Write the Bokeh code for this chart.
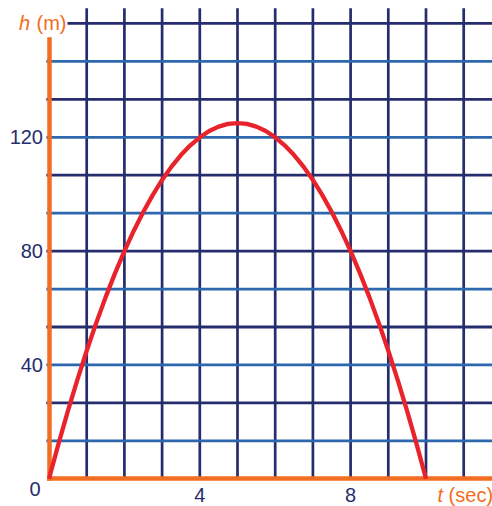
from bokeh.plotting import figure
from bokeh.models import LinearAxis, FixedTicker, Label, Range1d
from bokeh.embed import file_html
from bokeh.resources import INLINE

# ---- data ----
t_sec = [0, 0.25, 0.5, 0.75, 1, 1.25, 1.5, 1.75, 2, 2.25, 2.5, 2.75, 3, 3.25, 3.5, 3.75,
         4, 4.25, 4.5, 4.75, 5, 5.25, 5.5, 5.75, 6, 6.25, 6.5, 6.75, 7, 7.25, 7.5, 7.75,
         8, 8.25, 8.5, 8.75, 9, 9.25, 9.5, 9.75, 10]
h_m = [0, 12.19, 23.75, 34.69, 45, 54.69, 63.75, 72.19, 80, 87.19, 93.75, 99.69, 105,
       109.69, 113.75, 117.19, 120, 122.19, 123.75, 124.69, 125, 124.69, 123.75, 122.19,
       120, 117.19, 113.75, 109.69, 105, 99.69, 93.75, 87.19, 80, 72.19, 63.75, 54.69,
       45, 34.69, 23.75, 12.19, 0]
v_grid = [1, 2, 3, 4, 5, 6, 7, 8, 9, 10, 11]
h_grid = [13.33, 26.67, 40, 53.33, 66.67, 80, 93.33, 106.67, 120, 133.33, 146.67, 160]
x_ticks = [4, 8]
y_ticks = [40, 80, 120]

# ---- styles ----
ORANGE = "#f26d21"
RED = "#e8232b"
NAVY = "#262d6e"
BLUE = "#2d67ad"
FONT = "Liberation Sans"
FS = "20px"

W, H = 492, 506
PX_X, PX_Y = 37.7, 2.846
x0 = -48.5 / PX_X
x1 = x0 + W / PX_X
y0 = -(H - 478.3) / PX_Y
y1 = y0 + H / PX_Y

p = figure(width=W, height=H, x_range=Range1d(x0, x1), y_range=Range1d(y0, y1),
           output_backend="svg", toolbar_location=None, min_border=0,
           x_axis_type=None, y_axis_type=None)
p.outline_line_color = None
p.background_fill_color = "white"
p.border_fill_color = "white"

# vertical grid lines
r = p.segment(x0=v_grid, y0=[0] * len(v_grid), x1=v_grid, y1=[165.3] * len(v_grid),
              line_color=NAVY, line_width=2.7)
r.level = "underlay"

# horizontal grid lines (alternating colours)
h_cols = [BLUE if i % 2 == 0 else NAVY for i in range(len(h_grid))]
h_start = [-0.07] * (len(h_grid) - 1) + [0.49]
r = p.segment(x0=h_start, y0=h_grid, x1=[13] * len(h_grid), y1=h_grid,
              line_color=h_cols, line_width=2.8)
r.level = "underlay"

# axes through the origin
xaxis = LinearAxis(fixed_location=0, ticker=FixedTicker(ticks=x_ticks), bounds=(0, 13))
yaxis = LinearAxis(fixed_location=0, ticker=FixedTicker(ticks=y_ticks), bounds=(0, 154.4))
for ax in (xaxis, yaxis):
    ax.axis_line_color = ORANGE
    ax.axis_line_width = 4.5
    ax.axis_line_cap = "square"
    ax.major_tick_line_color = None
    ax.minor_tick_line_color = None
    ax.major_label_text_color = NAVY
    ax.major_label_text_font = FONT
    ax.major_label_text_font_size = FS
xaxis.major_label_standoff = 3
yaxis.major_label_standoff = 0
p.add_layout(xaxis, "below")
p.add_layout(yaxis, "left")

# curve
c = p.line(t_sec, h_m, line_color=RED, line_width=4.3)
c.level = "overlay"

# labels
def lab(x, y, text, xo, yo, style="normal", color=NAVY, align="left", baseline="top"):
    p.add_layout(Label(x=x, y=y, text=text, x_offset=xo, y_offset=yo,
                       text_font=FONT, text_font_size=FS, text_font_style=style,
                       text_color=color, text_align=align, text_baseline=baseline))

lab(0, 160, "h", -30, 11.5, style="italic", color=ORANGE)
lab(0, 160, "(m)", -12.5, 11.5, color=ORANGE)
lab(0, 0, "0", -14, -3, align="center")
lab(10.6, 0, "t", -11, -5, style="italic", color=ORANGE)
lab(10.6, 0, "(sec)", 0, -5, color=ORANGE)

open("out.html", "w").write(file_html(p, INLINE))
